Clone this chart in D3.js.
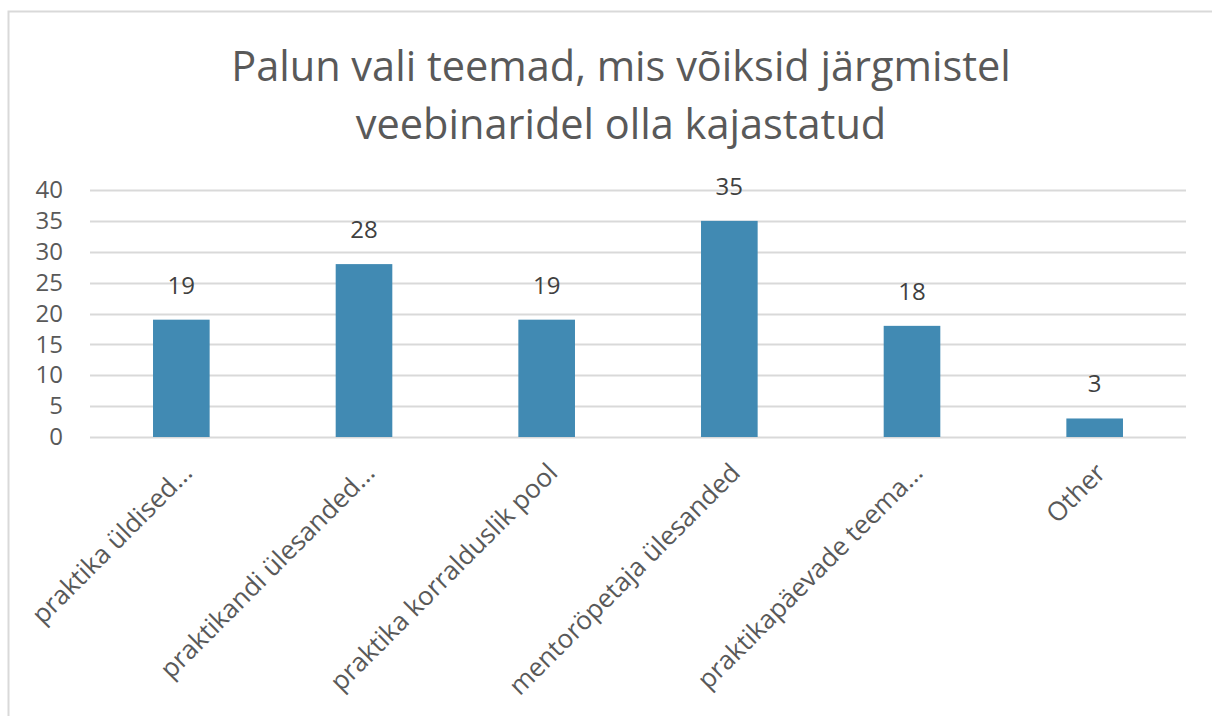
<!DOCTYPE html>
<html>
<head>
<meta charset="utf-8">
<script src="https://cdn.jsdelivr.net/npm/d3@7"></script>
<style>
  body { margin: 0; background: #fff; }
  svg { display: block; }
</style>
</head>
<body>
<svg id="chart" width="1212" height="716"></svg>
<script>
// data
var categories = ["praktika üldised...", "praktikandi ülesanded...", "praktika korralduslik pool",
                  "mentoröpetaja ülesanded", "praktikapäevade teema...", "Other"];
var counts = [19, 28, 19, 35, 18, 3];
var yTicks = [0, 5, 10, 15, 20, 25, 30, 35, 40];
var titleLines = ["Palun vali teemad, mis võiksid järgmistel", "veebinaridel olla kajastatud"];

var svg = d3.select("#chart"),
    width = +svg.attr("width"),
    height = +svg.attr("height");

var margin = {left: 90, right: 26, top: 190, bottom: 279};
var font = "'Open Sans', sans-serif";

// chart frame
svg.append("rect")
    .attr("x", 8.5).attr("y", 11.5)
    .attr("width", width + 10).attr("height", height + 10)
    .attr("fill", "#fff")
    .attr("stroke", "#d9d9d9")
    .attr("stroke-width", 2);

var x = d3.scaleBand()
    .domain(categories)
    .range([margin.left, width - margin.right])
    .paddingInner(0.69)
    .paddingOuter(0.345);

var y = d3.scaleLinear()
    .domain([0, 40])
    .range([height - margin.bottom, margin.top]);

// title
svg.append("text")
    .attr("text-anchor", "middle")
    .attr("fill", "#595959")
    .style("font-family", font)
    .style("font-size", "41.5px")
    .selectAll("tspan")
    .data(titleLines)
    .enter().append("tspan")
      .attr("x", 621)
      .attr("y", function(d, i) { return 81 + i * 58; })
      .text(function(d) { return d; });

// gridlines
svg.append("g")
    .selectAll("line")
    .data(yTicks)
    .enter().append("line")
      .attr("x1", margin.left)
      .attr("x2", width - margin.right)
      .attr("y1", function(d) { return Math.round(y(d)) + 0.5; })
      .attr("y2", function(d) { return Math.round(y(d)) + 0.5; })
      .attr("stroke", "#d9d9d9")
      .attr("stroke-width", 2);

// y axis labels
var yAxis = svg.append("g")
    .attr("transform", "translate(" + (margin.left - 27) + ",0)")
    .call(d3.axisLeft(y).tickValues(yTicks).tickSize(0).tickPadding(0));
yAxis.select(".domain").remove();
yAxis.selectAll("text")
    .attr("fill", "#595959")
    .style("font-family", font)
    .style("font-size", "24px");

// bars
svg.append("g")
    .selectAll("rect")
    .data(counts)
    .enter().append("rect")
      .attr("x", function(d, i) { return x(categories[i]); })
      .attr("y", function(d) { return y(d); })
      .attr("width", x.bandwidth())
      .attr("height", function(d) { return y(0) - y(d); })
      .attr("fill", "#418ab3");

// value labels
svg.append("g")
    .selectAll("text")
    .data(counts)
    .enter().append("text")
      .attr("x", function(d, i) { return x(categories[i]) + x.bandwidth() / 2; })
      .attr("y", function(d) { return y(d) - 26; })
      .attr("text-anchor", "middle")
      .attr("fill", "#404040")
      .style("font-family", font)
      .style("font-size", "24px")
      .text(function(d) { return d; });

// x axis labels, rotated
svg.append("g")
    .selectAll("text")
    .data(categories)
    .enter().append("text")
      .attr("transform", function(d) {
          return "translate(" + (x(d) + x.bandwidth() / 2 + 6) + "," + (y(0) + 31) + ") rotate(-45)";
      })
      .attr("text-anchor", "end")
      .attr("dy", "0.35em")
      .attr("fill", "#595959")
      .style("font-family", font)
      .style("font-size", "26px")
      .text(function(d) { return d; });
</script>
</body>
</html>
